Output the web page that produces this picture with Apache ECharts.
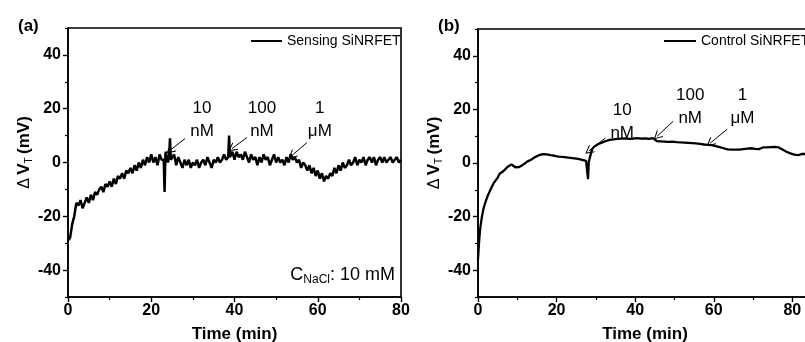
<!DOCTYPE html>
<html><head><meta charset="utf-8">
<script src="https://cdn.jsdelivr.net/npm/echarts@6/dist/echarts.min.js"></script>
<style>html,body{margin:0;padding:0;background:#fff}#c{width:805px;height:342px}</style>
</head><body><div id="c"></div>
<script>
// ---- data ----
const sensingData = [
[0,-29],[0.5,-28],[1,-23],[1.5,-20],[2,-15],[2.5,-16],[3,-14],[3.5,-17],[4,-15],[4.5,-13],
[5,-15],[5.5,-12],[6,-14],[6.5,-11],[7,-12],[7.5,-10],[8,-9],[8.5,-11],[9,-8],[9.5,-9],
[10,-7],[10.5,-9],[11,-6],[11.5,-8],[12,-5],[12.5,-6],[13,-4],[13.5,-6],[14,-3],[14.5,-4],
[15,-2],[15.5,-4],[16,-1],[16.5,-3],[17,0],[17.5,-2],[18,1],[18.5,-1],[19,2],[19.5,0],
[20,3],[20.5,0],[21,2],[21.5,-1],[22,3],[22.5,1],[23,1],[23.2,-11],[23.4,3],[23.5,4],[24,0],[24.3,2],[24.5,9],[24.7,1],
[25,1],[25.5,3],[26,-1],[26.5,2],[27,0],[27.5,-2],[28,1],[28.5,-1],[29,1],[29.5,-2],
[30,0],[30.5,-1],[31,1],[31.5,-2],[32,0],[32.5,1],[33,-1],[33.5,2],[34,0],[34.5,-2],
[35,1],[35.5,0],[36,2],[36.5,0],[37,1],[37.5,3],[38,1],[38.5,2],[38.7,10],[38.9,2],[39,2],[39.5,4],
[40,1],[40.5,4],[41,2],[41.5,3],[42,1],[42.5,4],[43,2],[43.5,0],[44,3],[44.5,1],
[45,2],[45.5,-1],[46,2],[46.5,0],[47,3],[47.5,1],[48,2],[48.5,-1],[49,1],[49.5,3],
[50,0],[50.5,2],[51,0],[51.5,1],[52,-1],[52.5,2],[53,0],[53.5,3],[54,1],[54.5,2],
[55,0],[55.5,1],[56,-2],[56.5,0],[57,-1],[57.5,-3],[58,-1],[58.5,-4],[59,-2],[59.5,-5],
[60,-3],[60.5,-6],[61,-4],[61.5,-7],[62,-5],[62.5,-6],[63,-4],[63.5,-5],[64,-2],[64.5,-4],
[65,-1],[65.5,-3],[66,0],[66.5,-2],[67,-1],[67.5,1],[68,-1],[68.5,0],[69,2],[69.5,-1],
[70,1],[70.5,0],[71,2],[71.5,-1],[72,1],[72.5,2],[73,0],[73.5,2],[74,-1],[74.5,1],
[75,2],[75.5,0],[76,2],[76.5,0],[77,1],[77.5,2],[78,0],[78.5,1],[79,2],[79.5,0],[80,1]
];
const controlData = [
[0,-36],[0.2,-31],[0.4,-27],[0.6,-24],[0.8,-22],[1,-20],[1.4,-17],[1.8,-15],[2.4,-12.5],[3,-10.5],
[3.5,-9],[4,-7.5],[4.5,-6.5],[5,-5.5],[5.5,-4],[6,-3.5],[6.5,-3],[7,-2.5],[7.5,-1.5],[8,-0.8],
[8.5,-0.5],[9,-1],[9.5,-1.6],[10,-1.8],[10.5,-1.5],[11,-1],[11.5,-0.6],[12,-0.2],[12.5,0.5],[13,0.8],
[13.5,1.2],[14,1.8],[14.5,2.2],[15,2.6],[15.5,2.9],[16,3.2],[16.5,3.3],[17,3.5],[17.5,3.2],[18,3.4],
[18.5,2.9],[19,3.1],[19.5,2.7],[20,2.9],[20.5,2.4],[21,2.7],[21.5,2.3],[22,2.5],[22.5,2.1],[23,2.3],
[23.5,1.9],[24,2.1],[24.5,1.7],[25,1.9],[25.5,1.5],[26,1.6],[26.5,1.2],[27,1.3],[27.5,0.8],[27.8,1],
[28,-6],[28.2,0.5],[28.5,1],[29,5],[29.5,6],[30,6.5],[30.5,7],[31,7.3],[31.5,7.6],[32,7.8],
[32.5,8.2],[33,8.1],[33.5,8.6],[34,8.4],[34.5,8.8],[35,8.6],[35.5,9],[36,8.8],[36.5,9.1],[37,8.7],
[37.5,9.2],[38,8.8],[38.5,9],[39,8.6],[39.5,9.1],[40,8.8],[40.5,9.3],[41,8.9],[41.5,9.1],[42,8.7],
[42.5,9.2],[43,8.8],[43.5,9],[44,8.5],[44.5,9.3],[45,8.6],[45.5,8.2],[46,8.8],[46.5,8.1],[47,8.4],
[47.5,8],[48,8.3],[48.5,7.9],[49,8.2],[49.5,8],[50,8.3],[50.5,7.8],[51,8.2],[51.5,7.7],[52,8],
[52.5,7.6],[53,7.9],[53.5,7.5],[54,7.8],[54.5,7.4],[55,7.7],[55.5,7.3],[56,7.5],[56.5,7.1],[57,7.4],
[57.5,6.9],[58,7.3],[58.5,6.8],[59,7.2],[59.5,6.7],[60,6.9],[60.5,6.3],[61,6.5],[61.5,5.9],[62,6.1],
[62.5,5.5],[63,5.7],[63.5,5.1],[64,5.4],[64.5,5],[65,5.3],[65.5,5],[66,5.4],[66.5,5],[67,5.6],
[67.5,5.2],[68,5.8],[68.5,5.4],[69,5.9],[69.5,5.5],[70,5.7],[70.5,5.3],[71,5.6],[71.5,5.2],[72,5.5],
[72.5,5.8],[73,5.4],[73.5,5.8],[74,5.5],[74.5,5.9],[75,6.3],[75.5,6],[76,6.4],[76.5,5.8],[77,5.5],
[77.5,5],[78,4.6],[78.5,4.2],[79,4],[79.5,3.6],[80,3.4],[80.5,3.1],[81,3.3],[81.5,2.9],[82,3.2],
[82.5,3.4],[83,3.1],[84,3.3],[85,3.2]
];
const xTickValues = [0,20,40,60,80];
const yTickValues = [-40,-20,0,20,40];
const yMinorTickValues = [-50,-30,-10,10,30,50];
const seriesNames = ['Sensing SiNRFET','Control SiNRFET'];
const concLabels = ['10\nnM','100\nnM','1\n\u03bcM'];

// ---- layout / styling ----
const FONT = 'Liberation Sans, Arial, sans-serif';
const chevron = 'path://M0,0 L6,10 L5,11 L0,2.4 L-5,11 L-6,10 Z';
const annA = [[32.2,15.8],[46.6,16],[60.5,16]];
const annB = [[36.7,15.2],[54,20.8],[67.3,20.8]];
const arrA = [[[28.1,8.9],[24.5,4.5]],[[43,9.3],[39.4,5.2]],[[57.4,7.4],[53.8,2.6]]];
const arrB = [[[32.4,9.3],[28.2,4.5]],[[49.7,15.6],[45.6,10]],[[63.4,12.6],[59.1,7.4]]];

function xAxes(gi, max){
  return {
    gridIndex: gi, type:'value', min:0, max:max, interval:20,
    name:'Time (min)', nameLocation:'middle', nameGap:29,
    nameTextStyle:{fontFamily:FONT, fontWeight:'bold', fontSize:17, color:'#000'},
    axisLine:{show:true, onZero:false, lineStyle:{color:'#000', width:1.6}},
    axisTick:{show:true, length:5, lineStyle:{color:'#000', width:1.4}},
    minorTick:{show:true, splitNumber:2, length:3, lineStyle:{color:'#000', width:1.2}},
    axisLabel:{fontFamily:FONT, fontWeight:'bold', fontSize:16, color:'#000', margin:6,
      customValues: xTickValues},
    splitLine:{show:false}
  };
}
function yAxes(gi){
  return [{
    gridIndex: gi, type:'value', min:-50, max:50,
    name:'{d|\u0394} {b|V}{s|T} {b|(mV)}', nameLocation:'middle', nameGap:34,
    nameTextStyle:{color:'#000', padding:[0,0,0,20], rich:{
      d:{fontFamily:FONT, fontSize:16, color:'#000'},
      b:{fontFamily:FONT, fontWeight:'bold', fontSize:17, color:'#000'},
      s:{fontFamily:FONT, fontSize:10, color:'#000', padding:[9,0,0,0]}
    }},
    axisLine:{show:true, onZero:false, lineStyle:{color:'#000', width:1.6}},
    axisTick:{show:true, length:5, customValues:yTickValues, lineStyle:{color:'#000', width:1.4}},
    axisLabel:{fontFamily:FONT, fontWeight:'bold', fontSize:16, color:'#000', margin:7,
      customValues:yTickValues},
    splitLine:{show:false}
  },{
    gridIndex: gi, type:'value', min:-50, max:50, position:'left',
    axisLine:{show:false},
    axisTick:{show:true, length:3, customValues:yMinorTickValues, lineStyle:{color:'#000', width:1.2}},
    axisLabel:{show:false}, splitLine:{show:false}
  }];
}
function markLines(arr){
  return {
    silent:true, animation:false, symbol:['none', chevron], symbolSize:[9,9],
    lineStyle:{color:'#000', width:1, type:'solid'}, label:{show:false},
    data: arr.map(a => [{coord:a[0]},{coord:a[1]}])
  };
}
function markPoints(ann){
  return {
    silent:true, animation:false, symbol:'circle', symbolSize:1,
    itemStyle:{color:'rgba(0,0,0,0)'},
    label:{show:true, position:'inside', fontFamily:FONT, fontSize:17, color:'#000', lineHeight:23, align:'center'},
    data: ann.map((p,i) => ({coord:p, value:concLabels[i], label:{formatter:concLabels[i]}}))
  };
}

const chart = echarts.init(document.getElementById('c'), null, {renderer:'canvas'});
const yA = yAxes(0), yB = yAxes(1);
chart.setOption({
  animation:false,
  backgroundColor:'#fff',
  grid:[
    {left:68, top:28, width:333, height:269, show:true, borderColor:'#000', borderWidth:1.6, containLabel:false, outerBoundsMode:'none'},
    {left:478, top:29, width:334, height:268, show:true, borderColor:'#000', borderWidth:1.6, containLabel:false, outerBoundsMode:'none'}
  ],
  xAxis:[xAxes(0,80), xAxes(1,85)],
  yAxis:[yA[0], yA[1], yB[0], yB[1]],
  legend:[
    {data:[{name:seriesNames[0], icon:'rect'}], left:251, top:34, padding:0, itemWidth:31, itemHeight:2,
     itemStyle:{color:'#000'}, textStyle:{fontFamily:FONT, fontSize:14, color:'#000'}},
    {data:[{name:seriesNames[1], icon:'rect'}], left:664, top:34, padding:0, itemWidth:32, itemHeight:2,
     itemStyle:{color:'#000'}, textStyle:{fontFamily:FONT, fontSize:14, color:'#000'}}
  ],
  graphic:[
    {type:'text', left:18, top:18, style:{text:'(a)', font:'bold 17px '+FONT, fill:'#000'}},
    {type:'text', left:438, top:18, style:{text:'(b)', font:'bold 17px '+FONT, fill:'#000'}},
    {type:'text', right:410, top:266, style:{
      text:'{n|C}{s|NaCl}{n|: 10 mM}', fill:'#000',
      rich:{n:{fontFamily:FONT, fontSize:18, color:'#000'}, s:{fontFamily:FONT, fontSize:12, color:'#000', padding:[9,0,0,0]}}
    }}
  ],
  series:[
    {name:seriesNames[0], type:'line', xAxisIndex:0, yAxisIndex:0, data:sensingData,
     symbol:'none', lineStyle:{color:'#000', width:2.5}, itemStyle:{color:'#000'},
     markLine:markLines(arrA), markPoint:markPoints(annA)},
    {name:seriesNames[1], type:'line', xAxisIndex:1, yAxisIndex:2, data:controlData,
     symbol:'none', lineStyle:{color:'#000', width:2.3}, itemStyle:{color:'#000'},
     markLine:markLines(arrB), markPoint:markPoints(annB)}
  ]
});
</script></body></html>
